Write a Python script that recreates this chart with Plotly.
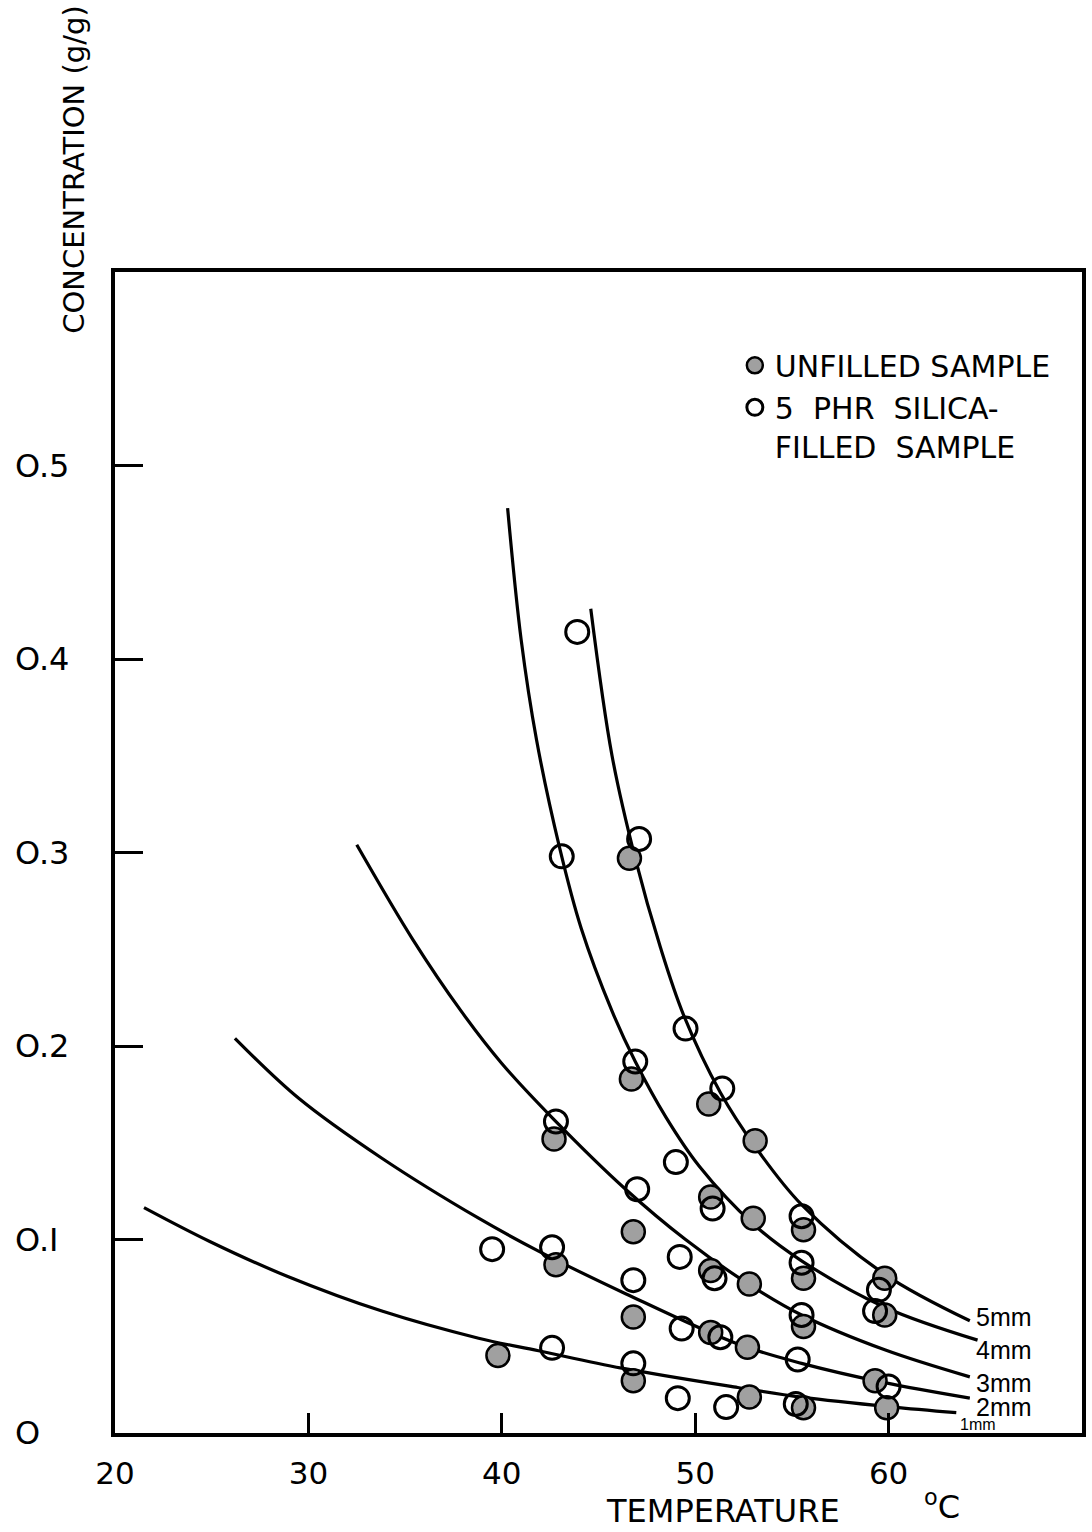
import plotly.graph_objects as go

# ---------------- data ----------------
# fitted curves (temperature °C, concentration g/g)
c5_x = [44.6, 45.7, 46.9, 48.2, 49.4, 51.3, 53.1, 55.5, 59.8, 64.2]
c5_y = [0.426, 0.350, 0.297, 0.251, 0.216, 0.176, 0.148, 0.118, 0.082, 0.058]

c4_x = [40.3, 41.0, 41.8, 43.0, 44.1, 45.7, 46.9, 48.5, 50.2, 53.0, 55.5, 59.8, 64.6]
c4_y = [0.478, 0.410, 0.358, 0.302, 0.261, 0.218, 0.192, 0.163, 0.138, 0.108, 0.089, 0.065, 0.048]

c3_x = [32.5, 35.4, 37.9, 40.0, 42.7, 46.4, 49.5, 52.6, 55.5, 59.8, 64.2]
c3_y = [0.304, 0.255, 0.218, 0.191, 0.162, 0.126, 0.100, 0.078, 0.061, 0.043, 0.029]

c2_x = [26.2, 29.5, 33.8, 38.8, 41.9, 46.4, 52.2, 55.5, 59.8, 64.2]
c2_y = [0.204, 0.173, 0.142, 0.111, 0.094, 0.072, 0.046, 0.036, 0.026, 0.018]

c1_x = [21.5, 24.9, 28.9, 33.8, 38.8, 41.9, 46.2, 52.2, 55.5, 60.1, 63.5]
c1_y = [0.1165, 0.099, 0.081, 0.063, 0.049, 0.0425, 0.0335, 0.0235, 0.0185, 0.0135, 0.0105]

curve_names = ["5mm", "4mm", "3mm", "2mm", "1mm"]

# unfilled sample (filled symbols)
unf_x = [46.6, 46.7, 50.7, 53.1, 42.7, 50.8, 53.0, 55.6, 46.8, 42.8, 50.8, 52.8, 55.6,
         59.8, 46.8, 50.8, 52.7, 39.8, 55.6, 59.8, 46.8, 59.3, 52.8, 55.6, 59.9]
unf_y = [0.297, 0.183, 0.170, 0.151, 0.152, 0.122, 0.111, 0.105, 0.104, 0.087, 0.084, 0.077, 0.080,
         0.080, 0.060, 0.052, 0.0443, 0.040, 0.055, 0.061, 0.027, 0.027, 0.0186, 0.013, 0.013]

# 5 phr silica-filled sample (open symbols)
fil_x = [43.9, 43.1, 47.1, 49.5, 46.9, 51.4, 42.8, 49.0, 47.0, 50.9, 55.5, 39.5, 42.6, 49.2,
         51.0, 46.8, 55.5, 59.5, 59.3, 49.3, 51.3, 55.5, 42.6, 46.8, 55.3, 60.0, 49.1, 51.6, 55.2]
fil_y = [0.414, 0.298, 0.307, 0.209, 0.192, 0.178, 0.161, 0.140, 0.126, 0.116, 0.112, 0.095, 0.096, 0.091,
         0.080, 0.079, 0.088, 0.074, 0.063, 0.054, 0.0495, 0.061, 0.044, 0.036, 0.038, 0.024, 0.018, 0.0134, 0.015]

x_ticks = [20, 30, 40, 50, 60]
x_ticktext = ["20", "30", "40", "50", "60"]
y_ticks = [0, 0.1, 0.2, 0.3, 0.4, 0.5]
y_ticktext = ["O", "O.I", "O.2", "O.3", "O.4", "O.5"]

legend_names = ["UNFILLED SAMPLE", "5\u00a0\u00a0PHR\u00a0\u00a0SILICA-<br>FILLED\u00a0\u00a0SAMPLE"]

# ---------------- figure ----------------
FONT = "DejaVu Sans"
fig = go.Figure()

curves = [(c5_x, c5_y), (c4_x, c4_y), (c3_x, c3_y), (c2_x, c2_y), (c1_x, c1_y)]
for (cx, cy), nm in zip(curves, curve_names):
    fig.add_trace(go.Scatter(x=cx, y=cy, mode="lines", name=nm, showlegend=False,
                             line=dict(color="black", width=3.2, shape="spline", smoothing=1.0),
                             hoverinfo="skip"))

fig.add_trace(go.Scatter(x=unf_x, y=unf_y, mode="markers", name=legend_names[0],
                         marker=dict(symbol="circle", size=23, color="#a0a0a0",
                                     line=dict(color="black", width=2.5))))
fig.add_trace(go.Scatter(x=fil_x, y=fil_y, mode="markers", name=legend_names[1],
                         marker=dict(symbol="circle-open", size=23, color="black",
                                     line=dict(color="black", width=3))))

annotations = []
# y tick labels (left aligned, far from the axis)
for v, t in zip(y_ticks, y_ticktext):
    annotations.append(dict(x=0, xref="paper", y=v, yref="y", text=t, showarrow=False,
                            xanchor="left", xshift=-102, yanchor="middle",
                            font=dict(family=FONT, size=32, color="black")))
# curve labels
label_pos = {"5mm": (64.4, 0.060, 25), "4mm": (64.4, 0.043, 25), "3mm": (64.4, 0.026, 25),
             "2mm": (64.4, 0.0132, 25), "1mm": (63.6, 0.0045, 16)}
for nm in curve_names:
    lx, ly, fs = label_pos[nm]
    annotations.append(dict(x=lx, y=ly, xref="x", yref="y", text=nm, showarrow=False,
                            xanchor="left", yanchor="middle",
                            font=dict(family="Liberation Sans", size=fs, color="black")))
# axis titles
annotations.append(dict(x=0, xref="paper", xshift=-41, y=1.088, yref="paper",
                        text="CONCENTRATION (g/g)", textangle=-90, showarrow=False,
                        xanchor="center", yanchor="middle",
                        font=dict(family=FONT, size=29, color="black")))
annotations.append(dict(x=0.629, xref="paper", y=0, yref="paper", yshift=-78,
                        text="TEMPERATURE", showarrow=False,
                        xanchor="center", yanchor="middle",
                        font=dict(family=FONT, size=32, color="black")))
annotations.append(dict(x=0.855, xref="paper", y=0, yref="paper", yshift=-72,
                        text="<sup>o</sup>C", showarrow=False,
                        xanchor="center", yanchor="middle",
                        font=dict(family=FONT, size=32, color="black")))

fig.update_layout(
    width=1092, height=1532,
    margin=dict(l=115, r=6, t=272, b=99),
    paper_bgcolor="white", plot_bgcolor="white",
    font=dict(family=FONT, size=26, color="black"),
    showlegend=True,
    legend=dict(x=0.641, y=0.942, xanchor="left", yanchor="top", bgcolor="rgba(0,0,0,0)",
                font=dict(family=FONT, size=30, color="black"), valign="top",
                tracegroupgap=2, itemwidth=30),
    annotations=annotations,
)
fig.update_xaxes(range=[20, 70], tickvals=x_ticks, ticktext=x_ticktext, ticks="inside",
                 ticklen=20, tickwidth=3, tickcolor="black", showline=True, linewidth=4,
                 linecolor="black", mirror=True, showgrid=False, zeroline=False,
                 ticklabelstandoff=10, tickfont=dict(family=FONT, size=31, color="black"))
fig.update_yaxes(range=[0, 0.6], tickvals=y_ticks, ticks="inside", ticklen=28, tickwidth=3,
                 tickcolor="black", showticklabels=False, showline=True, linewidth=4,
                 linecolor="black", mirror=True, showgrid=False, zeroline=False)

fig.write_html("out.html")
